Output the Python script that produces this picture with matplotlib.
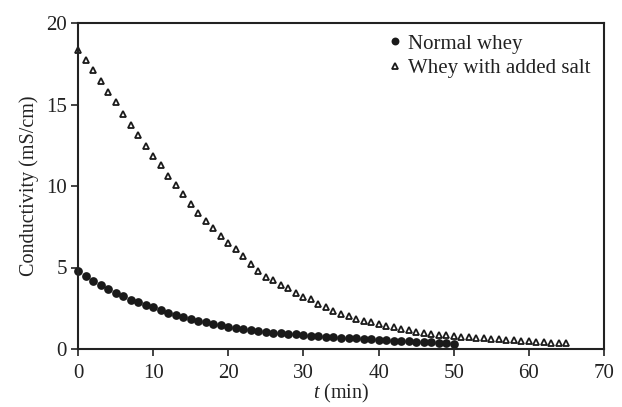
import matplotlib
matplotlib.use("Agg")
import matplotlib.pyplot as plt
import numpy as np

t_normal = list(range(0, 51))
normal = [4.79, 4.46, 4.17, 3.91, 3.68, 3.46, 3.25, 3.03, 2.86, 2.70,
          2.56, 2.37, 2.21, 2.11, 1.96, 1.84, 1.74, 1.64, 1.53, 1.45,
          1.33, 1.27, 1.21, 1.16, 1.10, 1.05, 1.00, 0.96, 0.92, 0.89,
          0.85, 0.82, 0.79, 0.76, 0.72, 0.70, 0.67, 0.65, 0.62, 0.59,
          0.56, 0.54, 0.52, 0.49, 0.47, 0.45, 0.42, 0.40, 0.38, 0.36,
          0.33]

t_salt = list(range(0, 66))
salt = [18.36, 17.75, 17.10, 16.44, 15.77, 15.13, 14.44, 13.76, 13.13, 12.47,
        11.84, 11.27, 10.63, 10.06, 9.49, 8.92, 8.36, 7.85, 7.40, 6.93,
        6.52, 6.13, 5.69, 5.21, 4.81, 4.40, 4.21, 3.91, 3.72, 3.44,
        3.21, 3.05, 2.78, 2.58, 2.33, 2.17, 2.04, 1.86, 1.74, 1.64,
        1.53, 1.41, 1.33, 1.21, 1.15, 1.04, 0.99, 0.94, 0.88, 0.83,
        0.79, 0.75, 0.72, 0.69, 0.66, 0.62, 0.59, 0.56, 0.53, 0.50,
        0.47, 0.44, 0.41, 0.39, 0.36, 0.34]

x_ticks = [0, 10, 20, 30, 40, 50, 60, 70]
y_ticks = [0, 5, 10, 15, 20]

plt.rcParams['font.family'] = ['Liberation Serif', 'DejaVu Serif']
plt.rcParams['mathtext.fontset'] = 'custom'
plt.rcParams['mathtext.rm'] = 'Liberation Serif'
plt.rcParams['mathtext.it'] = 'Liberation Serif:italic'

ink = '#222222'

fig = plt.figure(figsize=(6.22, 4.07), dpi=100)
ax = fig.add_axes([78/622, 1 - 349/407, (604-78)/622, (349-23)/407])

ax.plot(t_normal, normal, linestyle='none', marker='o', markersize=6.3,
        color='#1a1a1a', markeredgewidth=0, label='Normal whey', clip_on=False)
ax.plot(t_salt, salt, linestyle='none', marker='^', markersize=4.8,
        markerfacecolor='white', markeredgecolor='#1a1a1a', markeredgewidth=1.3,
        label='Whey with added salt', clip_on=False)

ax.set_xlim(0, 70)
ax.set_ylim(0, 20)
ax.set_xticks(x_ticks)
ax.set_yticks(y_ticks)
ax.tick_params(direction='out', length=5, width=1.2, labelsize=15, colors=ink)
ax.tick_params(axis='x', pad=6)
ax.tick_params(axis='y', pad=3)
for s in ax.spines.values():
    s.set_linewidth(1.5)
    s.set_color(ink)

ax.set_ylabel('Conductivity (mS/cm)', fontsize=14.5, color=ink, labelpad=5)
ax.set_xlabel(r'$t$ (min)', fontsize=14.5, color=ink, labelpad=-1)

leg = ax.legend(loc='upper right', bbox_to_anchor=(0.975, 0.966), frameon=False,
                fontsize=15, handlelength=0.5, handletextpad=0.4,
                labelspacing=0.22, borderaxespad=0, borderpad=0, markerscale=0.9)
for txt in leg.get_texts():
    txt.set_color(ink)

fig.savefig('out.png', dpi=100)
